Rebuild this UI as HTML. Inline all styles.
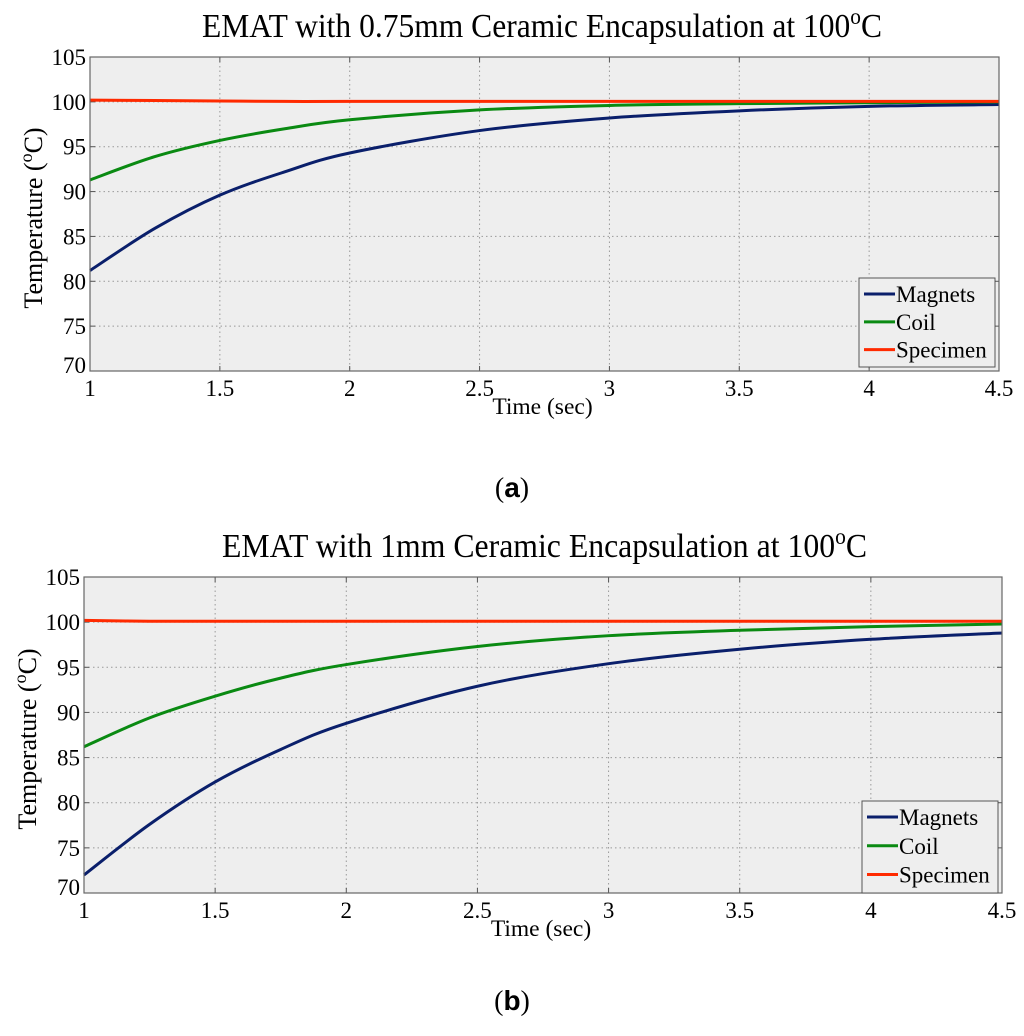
<!DOCTYPE html>
<html><head><meta charset="utf-8"><style>
body{margin:0;background:#fff;}
svg text{font-family:"Liberation Serif",serif;fill:#000;}
</style></head><body>
<svg id="s" width="1024" height="1031" xmlns="http://www.w3.org/2000/svg"></svg>
<script>
const xs = [1,1.25,1.5,1.75,2,2.5,3,3.5,4,4.5];
const magA = [81.2,85.9,89.6,92.2,94.3,96.8,98.2,99.0,99.5,99.7];
const coilA = [91.3,93.9,95.7,97.0,98.0,99.1,99.6,99.8,99.9,100.0];
const specA = [100.2,100.15,100.1,100.05,100.05,100.05,100.05,100.05,100.05,100.05];
const magB = [72.0,77.6,82.3,85.9,88.8,92.9,95.4,97.0,98.1,98.8];
const coilB = [86.2,89.4,91.8,93.8,95.3,97.3,98.5,99.1,99.5,99.8];
const specB = [100.2,100.1,100.1,100.1,100.1,100.1,100.1,100.1,100.1,100.1];
const xTicks = [1,1.5,2,2.5,3,3.5,4,4.5];
const xTickLabels = ["1","1.5","2","2.5","3","3.5","4","4.5"];
const yTicks = [70,75,80,85,90,95,100,105];
const seriesNames = ["Magnets","Coil","Specimen"];
const colors = ["#0a1f6b","#0a8a12","#ff2a00"];
const NS="http://www.w3.org/2000/svg";
const svg=document.getElementById('s');
function el(t,a,p){const e=document.createElementNS(NS,t);for(const k in a)e.setAttribute(k,a[k]);(p||svg).appendChild(e);return e;}
function path(pts){let d="M"+pts[0][0]+","+pts[0][1];for(let i=0;i<pts.length-1;i++){const p0=pts[Math.max(i-1,0)],p1=pts[i],p2=pts[i+1],p3=pts[Math.min(i+2,pts.length-1)];
d+=" C"+(p1[0]+(p2[0]-p0[0])/6)+","+(p1[1]+(p2[1]-p0[1])/6)+" "+(p2[0]-(p3[0]-p1[0])/6)+","+(p2[1]-(p3[1]-p1[1])/6)+" "+p2[0]+","+p2[1];}return d;}
function chart(id,c,title,series,label,labY){
  const g=el('g',{});
  
  
  const X=v=>c.l+(v-1)/3.5*(c.r-c.l), Y=v=>c.b-(v-70)/35*(c.b-c.t);
  const bg=el('rect',{x:c.l,y:c.t,width:c.r-c.l,height:c.b-c.t,fill:'#eeeeee'},g);
  
  xTicks.forEach((v,i)=>{
    if(i>0&&i<xTicks.length-1){el('line',{x1:X(v),x2:X(v),y1:c.t,y2:c.b,stroke:'#999','stroke-dasharray':'1.5,3',"stroke-width":1},g);}
    el('line',{x1:X(v),x2:X(v),y1:c.b,y2:c.b-5,stroke:'#555'},g);el('line',{x1:X(v),x2:X(v),y1:c.t,y2:c.t+5,stroke:'#555'},g);
    const t=el('text',{x:X(v),y:c.b+25,'font-size':23,'text-anchor':'middle'},g);t.textContent=xTickLabels[i];
    
  });
  yTicks.forEach((v,i)=>{
    if(i>0&&i<yTicks.length-1)el('line',{x1:c.l,x2:c.r,y1:Y(v),y2:Y(v),stroke:'#999','stroke-dasharray':'1.5,3'},g);
    el('line',{x1:c.l,x2:c.l+5,y1:Y(v),y2:Y(v),stroke:'#555'},g);el('line',{x1:c.r,x2:c.r-5,y1:Y(v),y2:Y(v),stroke:'#555'},g);
    const t=el('text',{x:c.l-4,y:Y(v)+8-(i==0?6:0),'font-size':23,'text-anchor':'end'},g);t.textContent=v;
    
  });
  series.forEach((s,k)=>{
    const p=el('path',{d:path(xs.map((x,i)=>[X(x),Y(s[i])])),fill:'none',stroke:colors[k],'stroke-width':3},g);
    
  });
  el('rect',{x:c.l,y:c.t,width:c.r-c.l,height:c.b-c.t,fill:'none',stroke:'#666','stroke-width':1.2},g);
  const tt=el('text',{x:c.tx0,y:c.t-20,'font-size':34,'text-anchor':'start',textLength:c.tx1-c.tx0,lengthAdjust:'spacingAndGlyphs'},g);
  tt.innerHTML=title+' 100<tspan dy="-13" font-size="23">o</tspan><tspan dy="13">C</tspan>';
  
  const xt=el('text',{x:(c.l+c.r)/2-2,y:c.b+43,'font-size':23.5,'text-anchor':'middle'},g);xt.textContent='Time (sec)';
  
  const yt=el('text',{x:0,y:0,'font-size':26,'text-anchor':'middle',transform:'translate('+(c.l-48)+','+((c.t+c.b)/2+4)+') rotate(-90)'},g);
  yt.innerHTML='Temperature (<tspan dy="-10" font-size="18">o</tspan><tspan dy="10">C)</tspan>';
  
  const lg=el('g',{},g);
  el('rect',{x:c.lx,y:c.ly,width:136,height:c.lh,fill:'#eeeeee',stroke:'#555'},lg);
  seriesNames.forEach((n,k)=>{const yy=c.ly+16+k*c.lh/3.2;
    el('line',{x1:c.lx+5,x2:c.lx+36,y1:yy,y2:yy,stroke:colors[k],'stroke-width':3},lg);
    const t=el('text',{x:c.lx+37,y:yy+8,'font-size':23},lg);t.textContent=n;
    });
  const lb=el('text',{x:512,y:labY,'font-size':28,'text-anchor':'middle'},g);
  lb.innerHTML='(<tspan font-weight="bold" font-family="Liberation Sans">'+label+'</tspan>)';
  
}
chart('chart-a',{l:90,r:999,t:57,b:371,lx:859,ly:278,lh:89,tx0:202,tx1:882},'EMAT with 0.75mm Ceramic Encapsulation at',[magA,coilA,specA],'a',497);
chart('chart-b',{l:84,r:1002,t:577,b:893,lx:862,ly:801,lh:92,tx0:222,tx1:867},'EMAT with 1mm Ceramic Encapsulation at',[magB,coilB,specB],'b',1010);
</script>
</body></html>
